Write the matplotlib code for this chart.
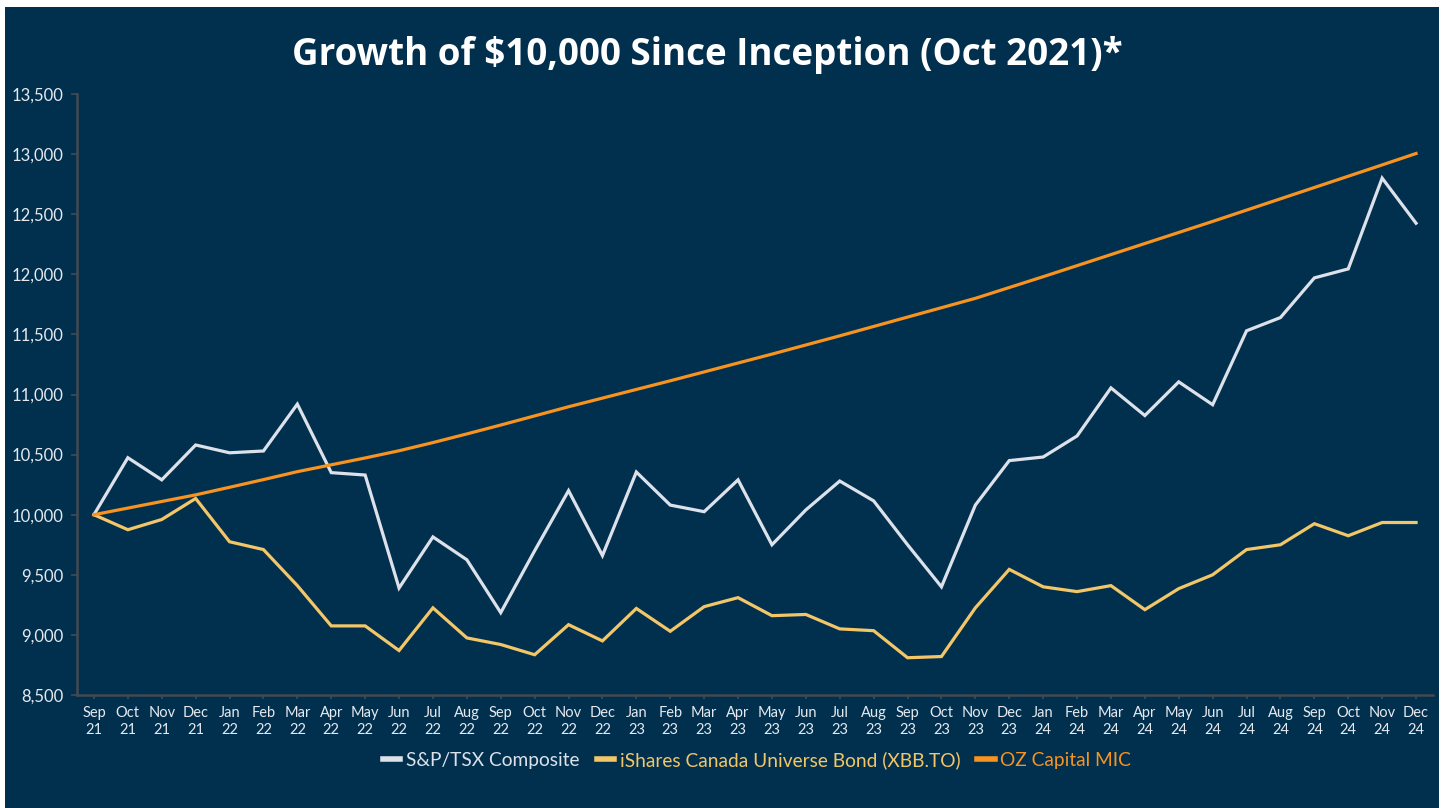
import matplotlib
matplotlib.use("Agg")
import matplotlib.pyplot as plt
from matplotlib.patches import Rectangle

months = ["Sep\n21", "Oct\n21", "Nov\n21", "Dec\n21",
          "Jan\n22", "Feb\n22", "Mar\n22", "Apr\n22", "May\n22", "Jun\n22",
          "Jul\n22", "Aug\n22", "Sep\n22", "Oct\n22", "Nov\n22", "Dec\n22",
          "Jan\n23", "Feb\n23", "Mar\n23", "Apr\n23", "May\n23", "Jun\n23",
          "Jul\n23", "Aug\n23", "Sep\n23", "Oct\n23", "Nov\n23", "Dec\n23",
          "Jan\n24", "Feb\n24", "Mar\n24", "Apr\n24", "May\n24", "Jun\n24",
          "Jul\n24", "Aug\n24", "Sep\n24", "Oct\n24", "Nov\n24", "Dec\n24"]

tsx = [10000, 10474, 10290, 10580, 10515, 10530, 10920, 10350, 10330, 9390,
       9815, 9625, 9185, 9700, 10200, 9660, 10355, 10080, 10025, 10290,
       9750, 10040, 10280, 10115, 9750, 9400, 10080, 10450, 10480, 10655,
       11055, 10825, 11105, 10915, 11530, 11640, 11970, 12045, 12800, 12425]

xbb = [10000, 9875, 9960, 10135, 9775, 9710, 9410, 9075, 9075, 8870,
       9225, 8975, 8920, 8835, 9085, 8950, 9220, 9030, 9235, 9310,
       9160, 9170, 9050, 9035, 8810, 8820, 9225, 9545, 9400, 9360,
       9410, 9210, 9385, 9500, 9710, 9750, 9925, 9825, 9935, 9935]

oz = [10000, 10055, 10110, 10165, 10228, 10292, 10358, 10415, 10472, 10532,
      10600, 10672, 10746, 10822, 10898, 10970, 11042, 11114, 11188, 11262,
      11336, 11412, 11488, 11566, 11644, 11722, 11800, 11890, 11980, 12072,
      12164, 12256, 12348, 12440, 12534, 12628, 12722, 12816, 12910, 13005]

series_names = ["S&P/TSX Composite", "iShares Canada Universe Bond (XBB.TO)", "OZ Capital MIC"]
yticks = [8500, 9000, 9500, 10000, 10500, 11000, 11500, 12000, 12500, 13000, 13500]

NAVY = "#01304f"
C_TSX = "#dde2ea"
C_XBB = "#f3c668"
C_OZ = "#f7931e"
FONT = ["Lato", "DejaVu Sans"]
TFONT = ["Open Sans", "DejaVu Sans"]

fig = plt.figure(figsize=(14.44, 8.08), dpi=100)
fig.patch.set_facecolor("white")
fig.add_artist(Rectangle((5 / 1444, 0), (1439 - 5) / 1444, 1 - 7 / 808,
                         transform=fig.transFigure, facecolor=NAVY,
                         edgecolor="none", zorder=0))

ax = fig.add_axes([77 / 1444, 1 - 695 / 808, (1433 - 77) / 1444, (695 - 94) / 808])
ax.set_facecolor(NAVY)
ax.patch.set_alpha(0)

x = list(range(len(months)))
l1, = ax.plot(x, tsx, color=C_TSX, lw=2.3, solid_joinstyle="miter")
l2, = ax.plot(x, xbb, color=C_XBB, lw=2.3, solid_joinstyle="miter")
l3, = ax.plot(x, oz, color=C_OZ, lw=2.3)

ax.set_xlim(-0.5, len(months) - 0.5)
ax.set_ylim(8500, 13500)
ax.set_yticks(yticks)
ax.set_yticklabels([f"{v:,}" for v in yticks], family=FONT, fontsize=12, color="#e6e9ee")
ax.set_xticks(x)
ax.set_xticklabels(months, family=FONT, fontsize=10.5, color="#e6e9ee", linespacing=1.25)

for s in ["top", "right"]:
    ax.spines[s].set_visible(False)
for s in ["left", "bottom"]:
    ax.spines[s].set_color("#444a50")
    ax.spines[s].set_linewidth(1.8)
ax.tick_params(axis="y", length=4, width=1.2, color="#444a50", pad=6)
ax.tick_params(axis="x", length=3, width=1.2, color="#444a50", pad=5)

fig.text(707 / 1444, 1 - 55 / 808, "Growth of $10,000 Since Inception (Oct 2021)*",
         family=TFONT, fontweight="bold", fontsize=26.5, color="white",
         ha="center", va="center")

leg = fig.legend([l1, l2, l3], series_names, loc="center",
                 bbox_to_anchor=(757 / 1444, 1 - 760 / 808), ncol=3,
                 frameon=False, handlelength=0.9, handletextpad=0.3,
                 columnspacing=0.9, prop={"family": FONT, "size": 13.8})
for txt, c in zip(leg.get_texts(), [C_TSX, C_XBB, C_OZ]):
    txt.set_color(c)
for h in leg.legend_handles:
    h.set_linewidth(4)

fig.savefig("out.png", dpi=100, facecolor=fig.get_facecolor())
